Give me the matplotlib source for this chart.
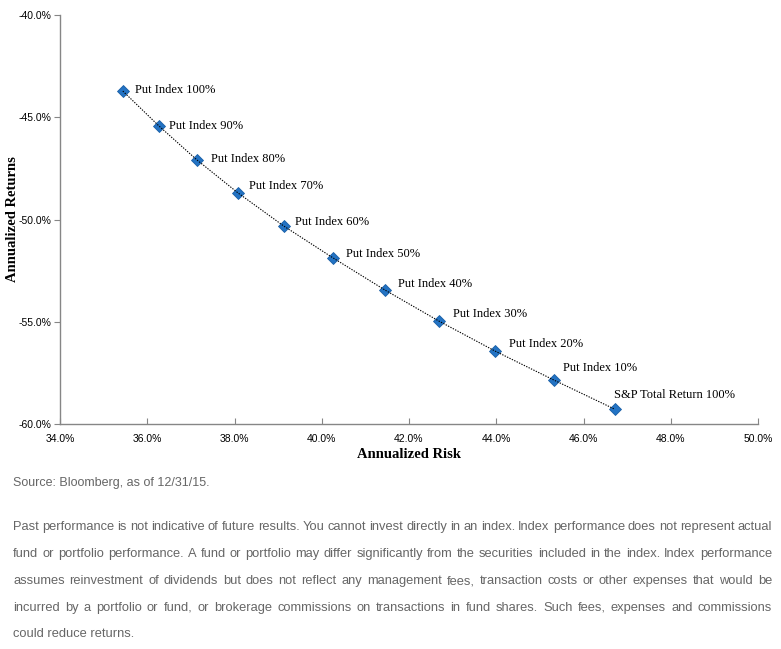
import matplotlib
matplotlib.use("Agg")
import matplotlib.pyplot as plt
from matplotlib.ticker import FuncFormatter, MultipleLocator
from matplotlib import font_manager

names = {f.name for f in font_manager.fontManager.ttflist}
NARROW = "Liberation Sans Narrow" if "Liberation Sans Narrow" in names else "Liberation Sans"
SERIF = "Liberation Serif"

labels = ["Put Index 100%", "Put Index 90%", "Put Index 80%", "Put Index 70%",
          "Put Index 60%", "Put Index 50%", "Put Index 40%", "Put Index 30%",
          "Put Index 20%", "Put Index 10%", "S&P Total Return 100%"]
risk = [35.44, 36.27, 37.14, 38.08, 39.13, 40.26, 41.45, 42.68, 43.97, 45.33, 46.72]
returns = [-43.72, -45.43, -47.09, -48.70, -50.32, -51.88, -53.45, -54.96, -56.43, -57.86, -59.28]
label_offsets = [(9, 1), (7, 0), (10, 1), (8, 5), (8, 3), (9, 3), (9, 4), (10, 5), (10, 5), (6, 9), (-1, 10)]

source_text = "Source: Bloomberg, as of 12/31/15."
disclaimer_lines = [
    "Past performance is not indicative of future results. You cannot invest directly in an index. Index performance does not represent actual",
    "fund or portfolio performance. A fund or portfolio may differ significantly from the securities included in the index. Index performance",
    "assumes reinvestment of dividends but does not reflect any management fees, transaction costs or other expenses that would be",
    "incurred by a portfolio or fund, or brokerage commissions on transactions in fund shares. Such fees, expenses and commissions",
    "could reduce returns.",
]

W, H = 781, 649
fig = plt.figure(figsize=(W / 100, H / 100), dpi=100)
ax = fig.add_axes([60 / W, 1 - 424 / H, (758 - 60) / W, (424 - 15) / H])

ax.plot(risk, returns, linestyle="none", marker="D", markersize=6.5,
        markerfacecolor="#2373C4", markeredgecolor="#1A5FA6", markeredgewidth=0.6, zorder=2)
ax.plot(risk, returns, linestyle=(0, (1.2, 1.2)), color="black", linewidth=0.8, zorder=3)

for x, y, lab, off in zip(risk, returns, labels, label_offsets):
    ax.annotate(lab, (x, y), xytext=off, textcoords="offset points",
                fontsize=9, family=SERIF, color="black", va="center", ha="left")

ax.set_xlim(34, 50)
ax.set_ylim(-60, -40)
ax.xaxis.set_major_locator(MultipleLocator(2))
ax.yaxis.set_major_locator(MultipleLocator(5))
ax.xaxis.set_major_formatter(FuncFormatter(lambda v, p: f"{v:.1f}%"))
ax.yaxis.set_major_formatter(FuncFormatter(lambda v, p: f"{v:.1f}%"))
for s in ["top", "right"]:
    ax.spines[s].set_visible(False)
for s in ["left", "bottom"]:
    ax.spines[s].set_color("#868686")
    ax.spines[s].set_linewidth(1)
ax.tick_params(axis="x", direction="in", length=4, color="#868686", labelsize=7.5, pad=7)
ax.tick_params(axis="y", direction="out", length=4, color="#868686", labelsize=7.5, pad=2)
for t in ax.get_xticklabels() + ax.get_yticklabels():
    t.set_family(NARROW)

ax.set_xlabel("Annualized Risk", family=SERIF, fontweight="bold", fontsize=10.5, labelpad=3)
ax.set_ylabel("Annualized Returns", family=SERIF, fontweight="bold", fontsize=10.5)
ax.yaxis.set_label_coords((19 - 60) / (758 - 60), 0.5)

grey = "#666666"
fig.text(13 / W, 1 - 483 / H, source_text, family=NARROW, fontsize=9, color=grey, va="center", ha="left")

# justified disclaimer lines
renderer = fig.canvas.get_renderer()
left_px, right_px = 13, 772
line_ys = [527, 554, 581, 608, 634]
for i, (line, ypx) in enumerate(zip(disclaimer_lines, line_ys)):
    yf = 1 - ypx / H
    if i == len(disclaimer_lines) - 1:
        fig.text(left_px / W, yf, line, family=NARROW, fontsize=9.3, color=grey, va="center", ha="left")
        continue
    words = line.split(" ")
    texts = [fig.text(0, yf, w, family=NARROW, fontsize=9.3, color=grey, va="center", ha="left") for w in words]
    widths = [t.get_window_extent(renderer).width for t in texts]
    gap = (right_px - left_px - sum(widths)) / (len(words) - 1)
    xpos = left_px
    for t, wd in zip(texts, widths):
        t.set_x(xpos / W)
        xpos += wd + gap

fig.savefig("out.png", dpi=100)
